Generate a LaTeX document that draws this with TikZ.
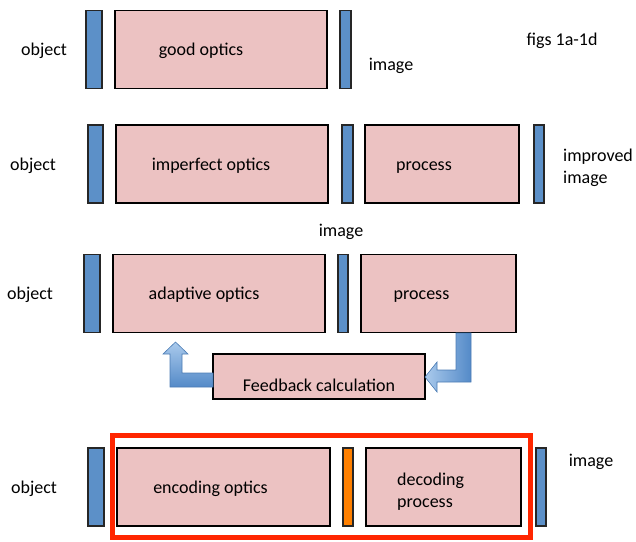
\documentclass[tikz,border=0pt]{standalone}
\usepackage{fontspec}
\setmainfont{Carlito}

\definecolor{boxpink}{RGB}{236,194,194}
\definecolor{plateblue}{RGB}{92,144,200}
\definecolor{plateorange}{RGB}{255,128,0}
\definecolor{framered}{RGB}{255,38,0}
\definecolor{arrowlight}{RGB}{170,202,236}
\definecolor{arrowdark}{RGB}{84,138,200}

\tikzset{
	optic/.style={draw=black, line width=1.1pt, fill=boxpink, minimum height=78pt, inner sep=0pt},
	plate/.style={draw=black!85, line width=1.1pt, fill=plateblue, minimum height=78pt, minimum width=#1, inner sep=0pt},
	txt/.style={font=\fontsize{18}{22}\selectfont, inner sep=0pt, anchor=mid, yshift=-4pt},
	blockarrow/.style={draw=arrowdark!90!black, line width=0.6pt, top color=arrowlight, bottom color=arrowdark}
}

\begin{document}
\begin{tikzpicture}[x=1pt, y=-1pt]
	\useasboundingbox (0,0) rectangle (636,541);

	% fig 1a
	\node[plate=16pt] (obja) at (94,49.5) {};
	\node[optic, minimum width=212pt] (good) at (221,49.5) {};
	\node[plate=11pt] (imga) at (345.5,49.5) {};
	\node[txt] (tgood) at ([xshift=-20pt]good.center) {good optics};
	\node[txt] (lobja) at (44,49.5) {object};
	\node[txt] (limga) at (391,64) {image};
	\node[txt] (figs) at (562,39) {figs 1a-1d};

	% fig 1b
	\node[plate=15pt] (objb) at (95.5,164) {};
	\node[optic, minimum width=212pt] (imperf) at (222,164) {};
	\node[plate=11pt] (imgb) at (347.5,164) {};
	\node[optic, minimum width=154pt] (procb) at (442,164) {};
	\node[plate=10pt] (outb) at (539,164) {};
	\node[txt] (timperf) at ([xshift=-11pt]imperf.center) {imperfect optics};
	\node[txt] (tprocb) at ([xshift=-18pt]procb.center) {process};
	\node[txt] (lobjb) at (33,164) {object};
	\node[txt] (limgb) at (341,230) {image};
	\node[txt, anchor=west, align=left] (loutb) at (563,164) {improved\\image};

	% fig 1c
	\node[plate=16pt] (objc) at (92,293.5) {};
	\node[optic, minimum width=212pt] (adapt) at (219,293.5) {};
	\node[plate=10pt] (imgc) at (343,293.5) {};
	\node[optic, minimum width=155pt] (procc) at (438.5,293.5) {};
	\node[optic, minimum width=212pt, minimum height=45pt] (fb) at (319,376.5) {};
	\node[txt] (tadapt) at ([xshift=-15pt]adapt.center) {adaptive optics};
	\node[txt] (tprocc) at ([xshift=-17pt]procc.center) {process};
	\node[txt] (tfb) at ([yshift=-9pt]fb.center) {Feedback calculation};
	\node[txt] (lobjc) at (30,293.5) {object};

	\draw[blockarrow] (213,373) -- (182,373) -- (182,354) -- (188,354) -- (175.5,342)
		-- (163,354) -- (170,354) -- (170,387) -- (213,387) -- cycle;
	\draw[blockarrow, left color=arrowlight, right color=arrowdark] (456,333) -- (471,333) -- (471,382) -- (437,382) -- (437,392)
		-- (425,377) -- (437,362) -- (437,370) -- (456,370) -- cycle;

	% fig 1d
	\node[plate=16pt] (objd) at (96,487) {};
	\node[optic, minimum width=213pt] (enc) at (223.5,487) {};
	\node[plate=10pt, fill=plateorange] (mask) at (348,487) {};
	\node[optic, minimum width=155pt] (dec) at (443.5,487) {};
	\node[plate=10pt] (imgd) at (541,487) {};
	\node[txt] (tenc) at ([xshift=-13pt]enc.center) {encoding optics};
	\node[txt, anchor=west, align=left] (tdec) at (397,488) {decoding\\process};
	\node[txt] (lobjd) at (34,487) {object};
	\node[txt] (limgd) at (591,460) {image};
	\draw[framered, line width=5pt] (112,435.5) rectangle (530,537);
\end{tikzpicture}
\end{document}
